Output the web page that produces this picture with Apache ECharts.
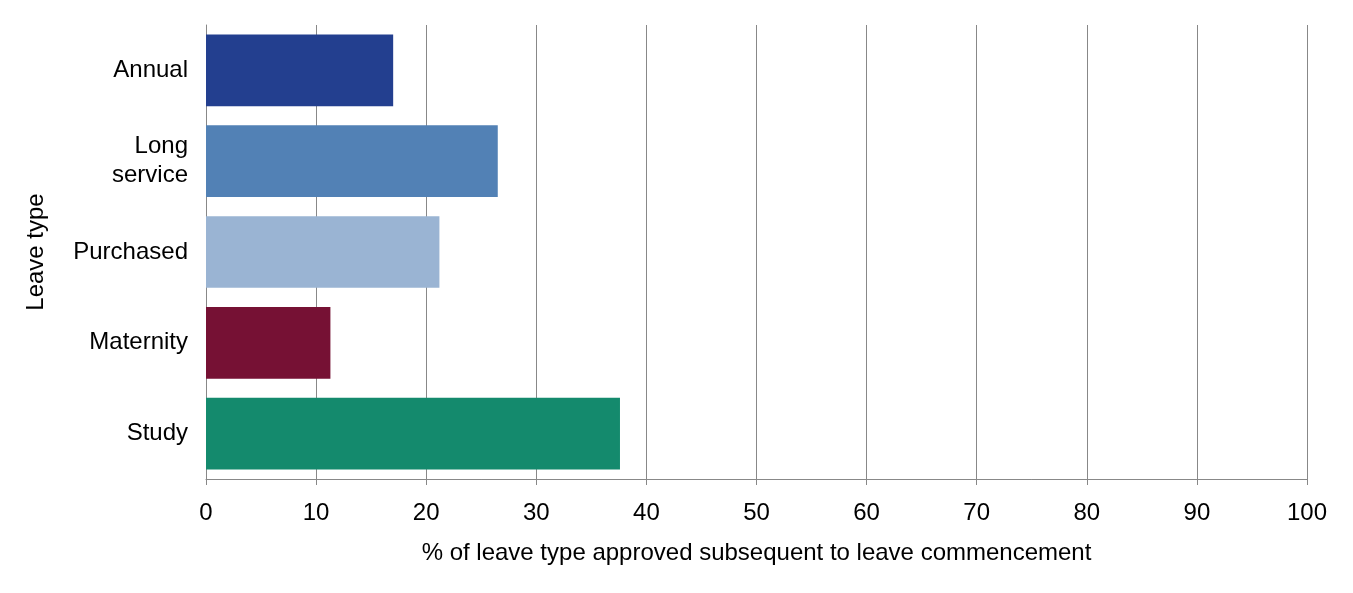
<!DOCTYPE html>
<html><head><meta charset="utf-8">
<script src="https://cdn.jsdelivr.net/npm/echarts@6/dist/echarts.min.js"></script>
<style>html,body{margin:0;padding:0;background:#fff}#c{width:1353px;height:593px}</style>
</head><body><div id="c"></div>
<script>
const categories = ["Annual", "Long\nservice", "Purchased", "Maternity", "Study"];
const values = [17.0, 26.5, 21.2, 11.3, 37.6];
const colors = ["#233F8F", "#5281B5", "#9AB4D3", "#761134", "#148A6D"];
const chart = echarts.init(document.getElementById('c'));
const font = "Liberation Sans";
chart.setOption({
  animation: false,
  grid: {left: 206, right: 46, top: 25, bottom: 114},
  xAxis: {
    type: 'value', min: 0, max: 100, interval: 10,
    name: '% of leave type approved subsequent to leave commencement',
    nameLocation: 'middle', nameGap: 62,
    nameTextStyle: {fontFamily: font, fontSize: 24, color: '#000'},
    axisLabel: {fontFamily: font, fontSize: 24, color: '#000', margin: 22},
    axisLine: {show: true, lineStyle: {color: '#888'}},
    axisTick: {show: true, length: 6, lineStyle: {color: '#888'}},
    splitLine: {show: true, lineStyle: {color: '#888'}}
  },
  yAxis: {
    type: 'category', inverse: true, data: categories,
    name: 'Leave type', nameLocation: 'middle', nameGap: 158,
    nameTextStyle: {fontFamily: font, fontSize: 24, color: '#000'},
    axisLabel: {fontFamily: font, fontSize: 24, color: '#000', margin: 18, lineHeight: 29},
    axisLine: {show: true, lineStyle: {color: '#888'}},
    axisTick: {show: false}
  },
  series: [{
    type: 'bar', barCategoryGap: '21%',
    data: values.map((v, i) => ({value: v, itemStyle: {color: colors[i]}}))
  }]
});
</script></body></html>
